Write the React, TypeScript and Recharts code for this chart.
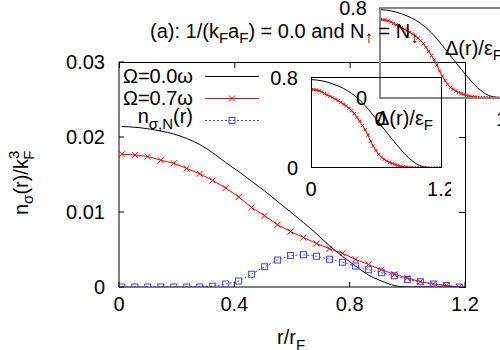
import { LineChart, Line, XAxis, YAxis } from "recharts";

const FONT = '"Liberation Sans", Arial, Helvetica, sans-serif';

// main panel: r / r_F sample points (markers sit on these)
const rVals = [
  0.01, 0.055, 0.1, 0.145, 0.19, 0.235, 0.28, 0.325, 0.37, 0.415, 0.46, 0.505, 0.55, 0.595,
  0.64, 0.685, 0.73, 0.775, 0.82, 0.865, 0.91, 0.955, 1.0, 1.045, 1.09, 1.135, 1.18,
];
// n_sigma(r)/k_F^3
const omega0 = [
  0.0214, 0.0213, 0.0211, 0.0208, 0.0204, 0.0198, 0.019, 0.0179, 0.0166, 0.0154, 0.0141, 0.0128,
  0.0114, 0.01, 0.0086, 0.0071, 0.0055, 0.0041, 0.0028, 0.0016, 0.0008, 0.0002, 0, 0, 0, 0, 0,
];
const omega07 = [
  0.0177, 0.0176, 0.0174, 0.0169, 0.0165, 0.0158, 0.0151, 0.0142, 0.0132, 0.012, 0.0106, 0.0095,
  0.0083, 0.0074, 0.0066, 0.0058, 0.0051, 0.0045, 0.0037, 0.003, 0.0023, 0.0017, 0.0012, 0.0007,
  0.0004, 0.0002, 0,
];
const nSigmaN = [
  0, 0, 0, 0, 0, 0, 0, 0.0001, 0.0004, 0.0008, 0.0017, 0.0027, 0.0036, 0.0042, 0.0043, 0.0041,
  0.0037, 0.0033, 0.0028, 0.0023, 0.0019, 0.0015, 0.001, 0.0007, 0.0004, 0.0002, 0,
];
const xTicks = [0, 0.4, 0.8, 1.2];
const yTicks = [0, 0.01, 0.02, 0.03];
const X_MAX = 1.2;
const Y_MAX = 0.03;

// inset: Delta(r)/eps_F
const insetR = [
  0, 0.025, 0.05, 0.075, 0.1, 0.125, 0.15, 0.175, 0.2, 0.225, 0.25, 0.275, 0.3, 0.325, 0.35,
  0.375, 0.4, 0.425, 0.45, 0.475, 0.5, 0.525, 0.55, 0.575, 0.6, 0.625, 0.65, 0.675, 0.7, 0.725,
  0.75, 0.775, 0.8, 0.825, 0.85, 0.875, 0.9, 0.925, 0.95, 0.975, 1.0, 1.025, 1.05, 1.075, 1.1,
  1.125, 1.15, 1.175, 1.2,
];
const insetDelta07 = [
  0.697, 0.696, 0.693, 0.687, 0.676, 0.662, 0.65, 0.637, 0.625, 0.612, 0.599, 0.584, 0.568, 0.551,
  0.532, 0.509, 0.483, 0.45, 0.415, 0.378, 0.34, 0.292, 0.24, 0.195, 0.155, 0.12, 0.095, 0.077,
  0.062, 0.05, 0.04, 0.031, 0.022, 0.016, 0.011, 0.008, 0.006, 0.004, 0.003, 0.002, 0.001, 0.001,
  0.001, 0, 0, 0, 0, 0, 0,
];
const insetCoarseR = [0, 0.1, 0.2, 0.3, 0.4, 0.5, 0.6, 0.7, 0.8, 0.9, 1.0, 1.1, 1.2];
const insetDelta0 = [0.786, 0.775, 0.748, 0.707, 0.645, 0.554, 0.437, 0.315, 0.197, 0.092, 0.024, 0.004, 0];

const mainData = rVals.map((r, i) => ({ r, w0: omega0[i], w07: omega07[i], nsn: nSigmaN[i] }));
const insetRed = insetR.map((r, i) => ({ r, v: insetDelta07[i] }));
const insetBlack = insetCoarseR.map((r, i) => ({ r, v: insetDelta0[i] }));

// main plot box (chart margins below put the plot exactly here)
const PLOT = { left: 119, top: 62, width: 346, height: 225 };
const px = (v: number) => PLOT.left + (v / X_MAX) * PLOT.width;
const py = (v: number) => PLOT.top + PLOT.height - (v / Y_MAX) * PLOT.height;

const RED = "#ff0000";
const BLUE = "#4040ff";

function crossDot(s: number) {
  return (p: any) => {
    const { cx, cy, index } = p;
    if (cx == null || cy == null) return <g key={index} />;
    return (
      <path
        key={index}
        d={`M${cx - s},${cy - s}L${cx + s},${cy + s}M${cx - s},${cy + s}L${cx + s},${cy - s}`}
        stroke={RED}
        strokeWidth={1}
        fill="none"
      />
    );
  };
}

function squareDot(p: any) {
  const { cx, cy, index } = p;
  if (cx == null || cy == null) return <g key={index} />;
  return <rect key={index} x={cx - 3} y={cy - 3} width={6} height={6} stroke={BLUE} strokeWidth={1} fill="none" />;
}

const tickFont = { fontSize: 20, fill: "#000", fontFamily: FONT };

function Inset({ dx, dy }: { dx: number; dy: number }) {
  return (
    <div style={{ position: "absolute", left: 251 + dx, top: 68 + dy }}>
      <LineChart width={200} height={132} margin={{ top: 10, right: 10, bottom: 2, left: 0 }}>
        <XAxis
          dataKey="r"
          type="number"
          domain={[0, 1.2]}
          ticks={[0, 1.2]}
          interval={0}
          axisLine={false}
          tickLine={false}
          tickMargin={8}
          tick={tickFont}
          allowDataOverflow
        />
        <YAxis
          type="number"
          domain={[0, 0.8]}
          ticks={[0, 0.8]}
          interval={0}
          width={60}
          axisLine={false}
          tickLine={false}
          tickMargin={7}
          tick={tickFont}
          allowDataOverflow
        />
        <Line data={insetBlack} dataKey="v" type="monotone" stroke="#000" strokeWidth={1} dot={false} isAnimationActive={false} />
        <Line data={insetRed} dataKey="v" type="linear" stroke={RED} strokeWidth={1} dot={crossDot(1.6)} isAnimationActive={false} />
      </LineChart>
    </div>
  );
}

export default function App() {
  return (
    <div style={{ position: "absolute", left: 0, top: 0, width: 500, height: 350, overflow: "hidden", background: "#fff", fontFamily: FONT }}>
      <div style={{ position: "absolute", left: 0, top: 0 }}>
        <LineChart width={500} height={350} data={mainData} margin={{ top: 62, right: 35, bottom: 33, left: 59 }}>
          <XAxis dataKey="r" type="number" domain={[0, X_MAX]} ticks={xTicks} interval={0} tickSize={-5} tickMargin={15} stroke="#000" tick={tickFont} allowDataOverflow />
          <YAxis type="number" domain={[0, Y_MAX]} ticks={yTicks} interval={0} width={60} tickSize={-5} tickMargin={19} stroke="#000" tick={tickFont} allowDataOverflow />
          <Line dataKey="w0" type="monotone" stroke="#000" strokeWidth={1} dot={false} isAnimationActive={false} />
          <Line dataKey="w07" type="linear" stroke={RED} strokeWidth={1} dot={crossDot(3)} isAnimationActive={false} />
          <Line dataKey="nsn" type="linear" stroke={BLUE} strokeWidth={1} strokeDasharray="2 2" dot={squareDot} isAnimationActive={false} />
        </LineChart>
      </div>

      {/* plot border (top / right edges of the gnuplot box) */}
      <div
        style={{
          position: "absolute",
          left: PLOT.left,
          top: PLOT.top,
          width: PLOT.width + 1,
          height: PLOT.height + 1,
          boxSizing: "border-box",
          borderTop: "1px solid #000",
          borderRight: "1px solid #000",
          pointerEvents: "none",
        }}
      />

      <Inset dx={69} dy={-70} />
      <Inset dx={0} dy={0} />

      <svg width={500} height={350} style={{ position: "absolute", left: 0, top: 0, pointerEvents: "none" }} fontFamily={FONT}>
        {xTicks.map((t) => (
          <line key={"tx" + t} x1={px(t) + 0.5} x2={px(t) + 0.5} y1={PLOT.top} y2={PLOT.top + 6} stroke="#000" />
        ))}
        {yTicks.map((t) => (
          <line key={"ty" + t} x1={PLOT.left + PLOT.width} x2={PLOT.left + PLOT.width - 6} y1={py(t) + 0.5} y2={py(t) + 0.5} stroke="#000" />
        ))}

        <rect x={380} y={8} width={130} height={90} fill="none" stroke="#888" strokeWidth={2} />
        <rect x={311.5} y={77.5} width={130} height={90} fill="none" stroke="#000" strokeWidth={1} />

        <text x={150} y={38} fontSize={20} fill="#000">
          (a): 1/(k<tspan dy={5} fontSize={15}>F</tspan>
          <tspan dy={-5}>a</tspan>
          <tspan dy={5} fontSize={15}>F</tspan>
          <tspan dy={-5}>) = 0.0 and N</tspan>
          <tspan dy={5} fontSize={17}>↑</tspan>
          <tspan dy={-5}> = N</tspan>
          <tspan dy={5} fontSize={17}>↓</tspan>
        </text>

        <text x={277} y={344} fontSize={20} fill="#000">
          r/r<tspan dy={6} fontSize={15}>F</tspan>
        </text>

        <text transform="translate(28,215) rotate(-90)" fontSize={20} fill="#000">
          n<tspan dy={5} fontSize={15}>σ</tspan>
          <tspan dy={-5}>(r)/k</tspan>
          <tspan dy={-9} fontSize={15}>3</tspan>
          <tspan dx={-9} dy={15} fontSize={15}>F</tspan>
        </text>

        {/* legend */}
        <text x={193} y={83} fontSize={20} fill="#000" textAnchor="end">Ω=0.0ω</text>
        <line x1={205} x2={259} y1={76.5} y2={76.5} stroke="#000" strokeWidth={1} />
        <text x={193} y={105} fontSize={20} fill="#000" textAnchor="end">Ω=0.7ω</text>
        <line x1={205} x2={259} y1={98.5} y2={98.5} stroke={RED} strokeWidth={1} />
        <path d="M229,95.5L235,101.5M229,101.5L235,95.5" stroke={RED} strokeWidth={1} />
        <text x={193} y={123} fontSize={20} fill="#000" textAnchor="end">
          n<tspan dy={6} fontSize={15}>σ,N</tspan>
          <tspan dy={-6}>(r)</tspan>
        </text>
        <line x1={205} x2={259} y1={120.5} y2={120.5} stroke={BLUE} strokeWidth={1} strokeDasharray="2 2" />
        <rect x={229} y={117.5} width={6} height={6} fill="none" stroke={BLUE} strokeWidth={1} />

        {/* inset labels */}
        <text x={376} y={125} fontSize={20} fill="#000">
          Δ(r)/ε<tspan dy={5} fontSize={15}>F</tspan>
        </text>
        <text x={445} y={55} fontSize={20} fill="#000">
          Δ(r)/ε<tspan dy={5} fontSize={15}>F</tspan>
        </text>
      </svg>
    </div>
  );
}
